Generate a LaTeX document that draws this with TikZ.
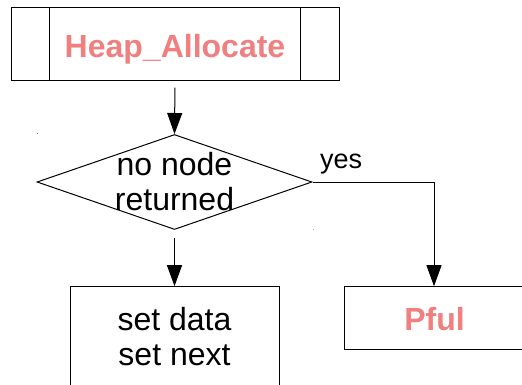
\documentclass[tikz,border=0pt]{standalone}
\usepackage{fontspec}
\setmainfont{Liberation Sans}
\usetikzlibrary{arrows.meta,shapes.geometric}
\definecolor{salmon}{RGB}{240,128,128}
\tikzset{
  box/.style={draw=black, line width=1pt, inner sep=0pt},
  lbl/.style={font=\fontsize{32}{36}\selectfont, inner sep=0pt, anchor=base},
  hot/.style={lbl, font=\fontsize{32}{36}\selectfont\bfseries, text=salmon},
  conn/.style={draw=black, line width=1pt, -{Triangle[length=21pt,width=15pt]}},
}
\begin{document}
\begin{tikzpicture}[x=1pt,y=-1pt]
\useasboundingbox (0,0) rectangle (522,384);
\clip (0,0) rectangle (522,384);
% top box
\node[box, minimum width=328pt, minimum height=73pt] (top) at (175,43.5) {};
\draw[line width=1pt] (49,7) -- (49,80) (300,7) -- (300,80);
\node[hot] (toptext) at (175,57) {Heap\_Allocate};
% diamond
\node[draw=black, line width=1pt, diamond, minimum width=275pt, minimum height=95pt, inner sep=0pt] (dia) at (174.5,182) {};
\node[lbl] (dt1) at (174.5,175) {no node};
\node[lbl] (dt2) at (174.5,210.7) {returned};
% bottom boxes
\node[box, minimum width=209pt, minimum height=130pt] (setbox) at (174.5,351.7) {};
\node[lbl] (s1) at (174.5,330) {set data};
\node[lbl] (s2) at (174.5,365) {set next};
\node[box, minimum width=200pt, minimum height=62.6pt] (pful) at (444,318) {};
\node[hot] (pfultext) at (434.5,330.7) {Pful};
% connectors
\draw[conn, shorten <=7pt] (top.south) -- (dia.north);
\draw[conn, shorten <=8pt] (dia.south) -- (setbox.north);
\coordinate (bend) at (434,182);
\draw[conn] (dia.east) -- (bend) -- (bend |- pful.north);
\node[font=\fontsize{27}{32}\selectfont, inner sep=0pt, anchor=base west] (yes) at (320,168) {yes};
% tiny marks
\fill[gray] (36.5,132.5) rectangle (38,134);
\fill[gray!70] (312.5,228.5) rectangle (314,230);
\end{tikzpicture}
\end{document}
